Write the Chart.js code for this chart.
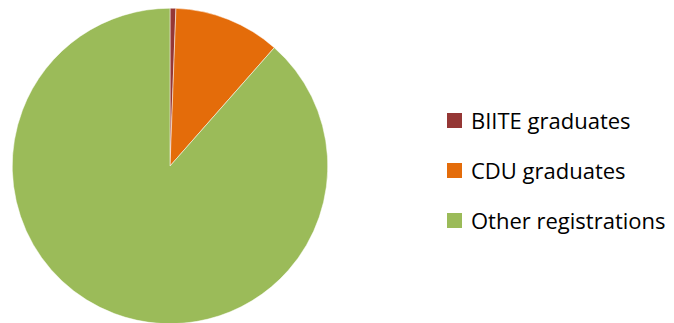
<!DOCTYPE html>
<html>
<head>
<meta charset="utf-8">
<script src="https://cdn.jsdelivr.net/npm/chart.js@4/dist/chart.umd.min.js"></script>
<style>
    html, body { margin: 0; padding: 0; background: #fff; overflow: hidden; }
    #wrap { position: absolute; left: 0; top: 0; width: 340px; height: 332px; }
    #legend { position: absolute; left: 447px; top: 95px; font-family: "Open Sans", sans-serif; font-size: 22px; color: #000; font-variant-ligatures: none; }
    .item { display: flex; align-items: center; height: 50px; }
    .box { width: 15px; height: 15px; margin-right: 9px; }
</style>
</head>
<body>
<div id="wrap"><canvas id="pieCanvas"></canvas></div>
<div id="legend"></div>
<script>
// Share of registrations (percent)
const labels = ['BIITE graduates', 'CDU graduates', 'Other registrations'];
const values = [0.6, 10.9, 88.5];
const colors = ['#953735', '#E46C0A', '#9BBB59'];

// Render the pie
const renderPie = () => {
    const ctx = document.getElementById('pieCanvas').getContext('2d');
    new Chart(ctx, {
        type: 'pie',
        data: {
            labels: labels,
            datasets: [{
                data: values,
                backgroundColor: colors,
                borderColor: '#ffffff',
                borderWidth: 0.5
            }]
        },
        options: {
            responsive: true,
            maintainAspectRatio: false,
            animation: false,
            layout: { padding: { top: 8, bottom: 8, left: 12, right: 12 } },
            plugins: {
                legend: { display: false },
                tooltip: { enabled: false }
            }
        }
    });
};

// Legend on the right, built from the same arrays
const renderLegend = () => {
    const el = document.getElementById('legend');
    labels.forEach((label, i) => {
        const row = document.createElement('div');
        row.className = 'item';
        const box = document.createElement('span');
        box.className = 'box';
        box.style.background = colors[i];
        const text = document.createElement('span');
        text.textContent = label;
        row.appendChild(box);
        row.appendChild(text);
        el.appendChild(row);
    });
};

renderPie();
renderLegend();
</script>
</body>
</html>
